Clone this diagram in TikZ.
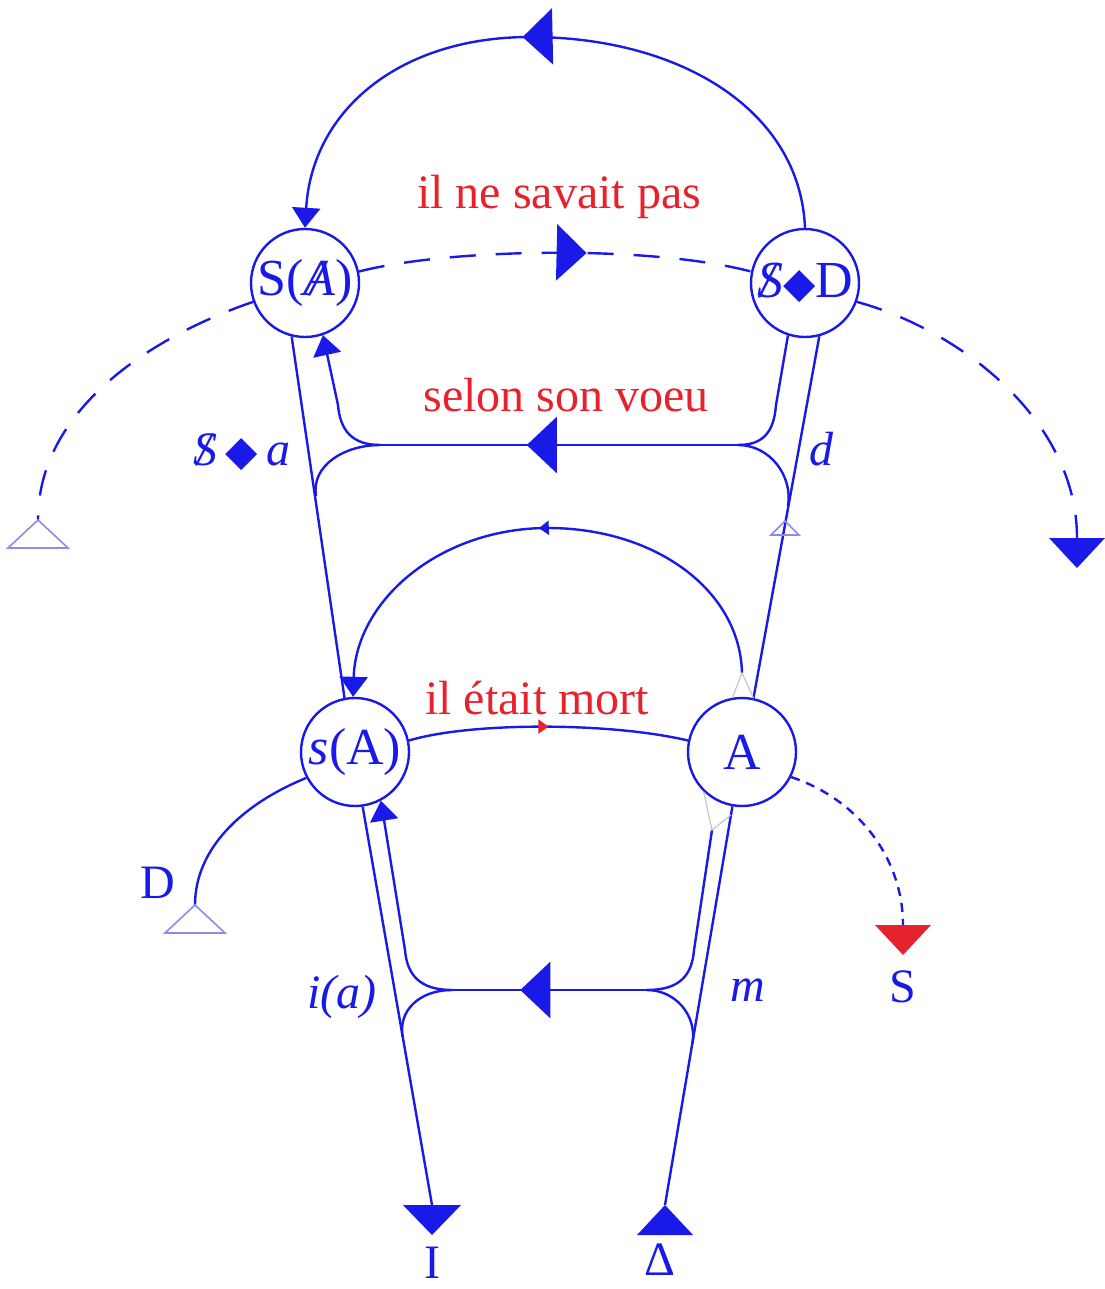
\documentclass[tikz,border=0pt]{standalone}
\usepackage{fontspec}
\setmainfont{Liberation Serif}
\newfontfamily\symf{DejaVu Sans}
\usetikzlibrary{arrows.meta,decorations.markings}
\definecolor{lblue}{RGB}{25,25,232}
\definecolor{lred}{RGB}{230,35,45}
\definecolor{lav}{RGB}{140,140,228}
\newcommand{\barS}{\ooalign{\textit{S}\cr\hidewidth\textit{/}\hidewidth\cr}}
\newcommand{\barA}{\ooalign{\textit{A}\cr\hidewidth\textit{/}\hidewidth\cr}}
\newcommand{\dmd}{{\symf\fontsize{21}{24}\selectfont ◆}}
\begin{document}
\begin{tikzpicture}[x=0.5pt,y=-0.5pt,
  ln/.style={draw=lblue,line width=1.2pt},
  dsh/.style={ln,dash pattern=on 13pt off 10pt},
  dotsh/.style={ln,dash pattern=on 4.5pt off 3.5pt},
  midtri/.style={postaction={decorate,decoration={markings,mark=at position #1 with {\arrow{Triangle[length=15pt,width=28pt]}}}}},
  smalltri/.style={postaction={decorate,decoration={markings,mark=at position #1 with {\arrow{Triangle[length=5pt,width=7pt]}}}}},
  redtri/.style={postaction={decorate,decoration={markings,mark=at position #1 with {\arrow[lred]{Triangle[length=5pt,width=7pt]}}}}},
  endtip/.style={-{Triangle[length=10pt,width=14pt]}},
  circ/.style={circle,draw=lblue,line width=1.2pt,minimum size=54pt,inner sep=0pt,text=lblue,font=\fontsize{26}{30}\selectfont},
  lbl/.style={text=lblue,inner sep=0pt,font=\fontsize{24}{28}\selectfont},
  rlbl/.style={text=lred,inner sep=0pt,font=\fontsize{24}{28}\selectfont},
  opentri/.style={draw=lav,line width=0.8pt},
  faint/.style={draw=gray!45,line width=0.6pt}]
\useasboundingbox (0,0) rectangle (1104,1289);

% nodes
\node[circ] (SA) at (305,283) {S(\barA)};
\node[circ] (SD) at (805,283) {\barS\dmd D};
\node[circ] (sA) at (355,752) {\textit{s}(A)};
\node[circ] (A)  at (742,752) {A};

% coordinates
\coordinate (tL) at (38,520);
\coordinate (tR) at (1077,538);
\coordinate (jUL) at (380,445);
\coordinate (jUR) at (738,445);
\coordinate (jLL) at (452,990);
\coordinate (jLR) at (647,990);
\coordinate (aT) at (742,673);
\coordinate (iR) at (712,830);
\coordinate (oR) at (731,815);
\coordinate (tI) at (432,1205);
\coordinate (tD) at (665,1205);
\coordinate (tS) at (903,925);
\coordinate (tDD) at (195,905);
\coordinate (tO) at (785,521);

% top arc
\draw[ln,midtri=0.54,endtip] (SD.north) .. controls (800,110) and (680,37) .. (530,37)
  .. controls (400,37) and (312,110) .. (SA.north);
% dashed arcs
\draw[dsh,midtri=0.58] (SA.12) .. controls (450,248) and (650,245) .. (SD.168);
\draw[dsh] (SA.200) .. controls (170,330) and (38,400) .. (tL);
\draw[dsh] (SD.-20) .. controls (960,330) and (1077,420) .. (tR);

% upper vectors
\draw[ln] (SA.256) -- (sA.101);
\draw[ln] (SD.-75) -- (A.78);
\draw[ln,midtri=0.59] (jUR) -- (jUL);
\draw[ln,endtip] (jUL) .. controls (352,445) and (340,430) .. (338,405) -- (SA.-71);
\draw[ln] (jUL) .. controls (345,445) and (311,465) .. (316,496);
\draw[ln] (jUR) .. controls (765,445) and (774,430) .. (776,405) -- (SD.-108);
\draw[ln] (jUR) .. controls (770,445) and (793,476) .. (788,506);
\draw[opentri] (tO) -- ++(-14,14) -- ++(28,0) -- cycle;

% semi arc A -> s(A)
\draw[ln,smalltri=0.5,endtip] (aT) .. controls (740,590) and (655,528) .. (548,528)
  .. controls (440,528) and (356,600) .. (sA.92);
\draw[faint] (A.100) -- (aT) -- (A.78);

% red arc
\draw[ln,redtri=0.5] (sA.12) .. controls (470,722) and (610,722) .. (A.168);

% lower vectors
\draw[ln] (sA.278) -- (tI);
\draw[ln] (A.260) -- (tD);
\draw[ln,midtri=0.65] (jLR) -- (jLL);
\draw[ln,endtip] (jLL) .. controls (420,990) and (407,975) .. (405,950) -- (sA.-62);
\draw[ln] (jLL) .. controls (420,990) and (398,1010) .. (402.6,1037);
\draw[ln] (jLR) .. controls (680,990) and (692,975) .. (694,950) -- (iR);
\draw[ln] (jLR) .. controls (675,990) and (697,1015) .. (692.5,1043);
\draw[faint] (A.226) -- (iR) -- (oR);

% D and S branches
\draw[ln] (sA.208) .. controls (240,805) and (195,850) .. (tDD);
\draw[dotsh] (A.-27) .. controls (860,800) and (903,860) .. (tS);

% end triangles
\draw[opentri] (tL) -- ++(-30,28) -- ++(60,0) -- cycle;
\draw[opentri] (tDD) -- ++(-30,28) -- ++(60,0) -- cycle;
\fill[lblue] (tR) ++(-28,0) -- ++(56,0) -- ++(-28,30) -- cycle;
\fill[lblue] (tI) ++(-29,0) -- ++(58,0) -- ++(-29,30) -- cycle;
\fill[lblue] (tD) -- ++(-28,30) -- ++(56,0) -- cycle;
\fill[lred] (tS) ++(-28,0) -- ++(56,0) -- ++(-28,30) -- cycle;

% labels
\node[rlbl] (t1) at (559,197) {il ne savait pas};
\node[rlbl] (t2) at (566,395) {selon son voeu};
\node[rlbl] (t3) at (537,698) {il était mort};
\node[lbl] (la) at (242,452) {\barS\,\dmd\,\textit{a}};
\node[lbl] (ld) at (822,449) {\textit{d}};
\node[lbl] (lia) at (342,997) {\textit{i(a)}};
\node[lbl] (lm) at (748,990) {\textit{m}};
\node[lbl] (lD) at (158,883) {D};
\node[lbl] (lS) at (903,987) {S};
\node[lbl] (lI) at (432,1263) {I};
\node[lbl] (lDelta) at (660,1260) {Δ};
\end{tikzpicture}
\end{document}
